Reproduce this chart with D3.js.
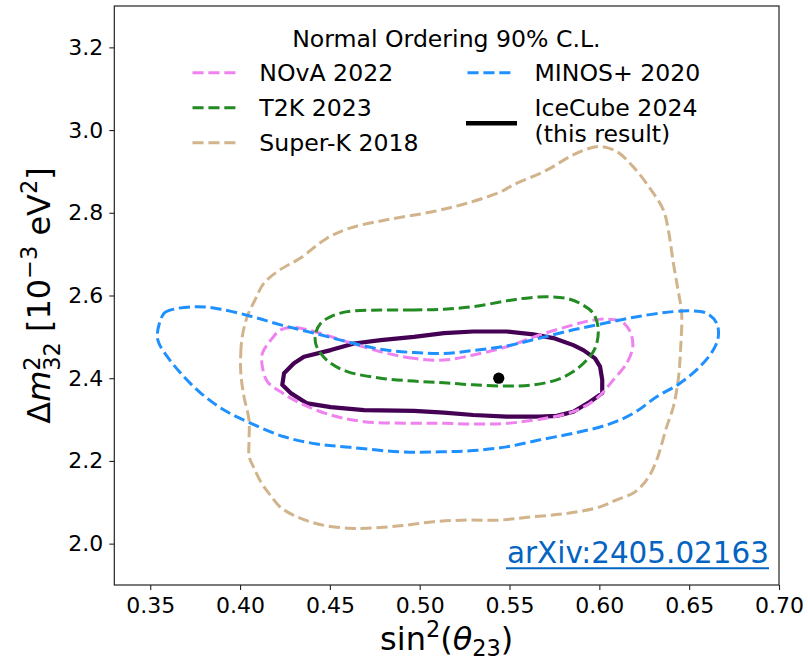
<!DOCTYPE html>
<html>
<head>
<meta charset="utf-8">
<script src="https://cdn.jsdelivr.net/npm/d3@7"></script>
<style>
  body { margin: 0; background: #fff; }
  svg { display: block; }
  text { font-family: "DejaVu Sans", sans-serif; fill: #000; }
</style>
</head>
<body>
<svg id="chart" width="808" height="661"></svg>
<script>
// 90% C.L. contours in (sin^2 theta23, Delta m^2_32 [1e-3 eV^2])
const superK2018 = [
  [0.4004,2.413],[0.4004,2.461],[0.4012,2.500],[0.4039,2.548],[0.4083,2.589],[0.4133,2.630],
  [0.4222,2.662],[0.4334,2.690],[0.4482,2.738],[0.4612,2.763],[0.4816,2.783],[0.5076,2.803],
  [0.5262,2.823],[0.5447,2.850],[0.5519,2.867],[0.5707,2.903],[0.5855,2.940],[0.5994,2.960],
  [0.6097,2.948],[0.6189,2.911],[0.6282,2.859],[0.6356,2.807],[0.6384,2.758],[0.6412,2.678],
  [0.6438,2.613],[0.6458,2.558],[0.6453,2.476],[0.6439,2.396],[0.6412,2.331],[0.6375,2.283],
  [0.6319,2.202],[0.6271,2.159],[0.6198,2.125],[0.6097,2.106],[0.6004,2.089],[0.5818,2.073],
  [0.5631,2.065],[0.5447,2.057],[0.5262,2.057],[0.5076,2.053],[0.4890,2.043],[0.4705,2.037],
  [0.4612,2.037],[0.4482,2.043],[0.4389,2.053],[0.4296,2.069],[0.4222,2.089],[0.4167,2.118],
  [0.4120,2.146],[0.4074,2.186],[0.4051,2.210],[0.4050,2.251],[0.4050,2.299],[0.4022,2.355]
];
const minos2020 = [
  [0.3539,2.505],[0.3577,2.557],[0.3632,2.567],[0.3762,2.573],[0.3892,2.567],[0.4059,2.550],
  [0.4226,2.529],[0.4412,2.509],[0.4597,2.488],[0.4783,2.470],[0.4968,2.462],[0.5135,2.460],
  [0.5298,2.467],[0.5484,2.478],[0.5670,2.497],[0.5855,2.517],[0.6041,2.534],[0.6226,2.550],
  [0.6412,2.561],[0.6505,2.563],[0.6597,2.557],[0.6653,2.533],[0.6662,2.500],[0.6634,2.468],
  [0.6560,2.428],[0.6449,2.388],[0.6319,2.355],[0.6189,2.315],[0.6041,2.287],[0.5855,2.267],
  [0.5670,2.251],[0.5484,2.234],[0.5298,2.225],[0.5113,2.222],[0.4890,2.222],[0.4612,2.233],
  [0.4427,2.241],[0.4241,2.259],[0.4040,2.295],[0.3911,2.323],[0.3781,2.364],[0.3670,2.412],
  [0.3595,2.452],[0.3549,2.484]
];
const nova2022 = [
  [0.5135,2.444],[0.4968,2.448],[0.4783,2.464],[0.4597,2.488],[0.4412,2.513],[0.4300,2.523],
  [0.4226,2.517],[0.4171,2.492],[0.4124,2.460],[0.4124,2.428],[0.4152,2.392],[0.4226,2.367],
  [0.4338,2.339],[0.4505,2.311],[0.4690,2.295],[0.4968,2.291],[0.5135,2.291],[0.5298,2.289],
  [0.5484,2.291],[0.5670,2.301],[0.5855,2.319],[0.5985,2.351],[0.6078,2.396],[0.6152,2.436],
  [0.6186,2.476],[0.6171,2.513],[0.6124,2.537],[0.6041,2.543],[0.5948,2.539],[0.5855,2.529],
  [0.5670,2.505],[0.5484,2.476],[0.5298,2.456]
];
const t2k2023 = [
  [0.5135,2.567],[0.4968,2.565],[0.4783,2.565],[0.4597,2.561],[0.4505,2.549],[0.4449,2.533],
  [0.4421,2.509],[0.4421,2.484],[0.4449,2.460],[0.4505,2.436],[0.4597,2.416],[0.4783,2.400],
  [0.4968,2.393],[0.5135,2.389],[0.5298,2.384],[0.5484,2.381],[0.5632,2.384],[0.5763,2.396],
  [0.5855,2.416],[0.5930,2.444],[0.5976,2.472],[0.5994,2.517],[0.5966,2.557],[0.5892,2.581],
  [0.5818,2.593],[0.5707,2.597],[0.5577,2.593],[0.5484,2.587],[0.5298,2.573]
];
const icecube2024 = [
  [0.5135,2.509],[0.4968,2.500],[0.4783,2.492],[0.4634,2.484],[0.4505,2.468],[0.4356,2.452],
  [0.4300,2.436],[0.4245,2.412],[0.4235,2.384],[0.4282,2.364],[0.4374,2.339],[0.4505,2.330],
  [0.4690,2.323],[0.4968,2.321],[0.5135,2.317],[0.5298,2.311],[0.5484,2.307],[0.5670,2.307],
  [0.5763,2.309],[0.5855,2.319],[0.5948,2.343],[0.6016,2.364],[0.6016,2.396],[0.6004,2.428],
  [0.5976,2.448],[0.5911,2.468],[0.5855,2.480],[0.5744,2.497],[0.5632,2.506],[0.5484,2.513],
  [0.5298,2.513]
];
const bestFit = [0.544, 2.40];

const xTicks = [0.35, 0.40, 0.45, 0.50, 0.55, 0.60, 0.65, 0.70];
const yTicks = [2.0, 2.2, 2.4, 2.6, 2.8, 3.0, 3.2];
const legendTitle = "Normal Ordering 90% C.L.";
const legendCol1 = ["NOvA 2022", "T2K 2023", "Super-K 2018"];
const legendCol2 = ["MINOS+ 2020"];
const icecubeLabel = ["IceCube 2024", "(this result)"];
const arxivLabel = "arXiv:2405.02163";

const svg = d3.select("#chart");
svg.append("rect").attr("width", 808).attr("height", 661).attr("fill", "#fff");

const L = 114.3, R = 779, T = 6, B = 585;
const x = d3.scaleLinear().domain([0.33, 0.70]).range([L, R]);
const y = d3.scaleLinear().domain([1.9, 3.3]).range([B, T]);

// axes
const xAxis = svg.append("g").attr("transform", `translate(0,${B})`)
  .call(d3.axisBottom(x).tickValues(xTicks).tickSize(5).tickPadding(7).tickFormat(d3.format(".2f")));
const yAxis = svg.append("g").attr("transform", `translate(${L},0)`)
  .call(d3.axisLeft(y).tickValues(yTicks).tickSize(5).tickPadding(6).tickFormat(d3.format(".1f")));
[xAxis, yAxis].forEach(a => {
  a.select(".domain").remove();
  a.selectAll(".tick line").attr("stroke", "#222").attr("stroke-width", 1.1);
  a.selectAll(".tick text").attr("font-size", 22).attr("font-family", "DejaVu Sans").attr("fill", "#000");
});

// contours
const plot = svg.append("g");
svg.append("clipPath").attr("id", "clip").append("rect")
  .attr("x", L).attr("y", T).attr("width", R - L).attr("height", B - T);
plot.attr("clip-path", "url(#clip)");

const smooth = d3.line().x(d => x(d[0])).y(d => y(d[1])).curve(d3.curveCatmullRomClosed.alpha(0.5));
const angular = d3.line().x(d => x(d[0])).y(d => y(d[1])).curve(d3.curveLinearClosed);
const dash = "11.1 4.8";

plot.append("path").attr("d", angular(icecube2024)).attr("fill", "none")
  .attr("stroke", "#440154").attr("stroke-width", 4.2).attr("stroke-linejoin", "round");
const dashed = [
  [nova2022, "#EE82EE"],
  [t2k2023, "#228B22"],
  [superK2018, "#D2B48C"],
  [minos2020, "#1E90FF"]
];
dashed.forEach(([pts, col]) => {
  plot.append("path").attr("d", smooth(pts)).attr("fill", "none")
    .attr("stroke", col).attr("stroke-width", 3).attr("stroke-dasharray", dash);
});
plot.append("circle").attr("cx", x(bestFit[0])).attr("cy", y(bestFit[1])).attr("r", 5.6).attr("fill", "#000");

// frame
svg.append("rect").attr("x", L).attr("y", T).attr("width", R - L).attr("height", B - T)
  .attr("fill", "none").attr("stroke", "#222").attr("stroke-width", 1.2);

// legend
const lg = svg.append("g").attr("font-size", 23.6);
lg.append("text").attr("x", 446.4).attr("y", 46.5).attr("text-anchor", "middle").text(legendTitle);
const col1Colors = ["#EE82EE", "#228B22", "#D2B48C"];
const rowY = [72.7, 107.7, 142.7];
legendCol1.forEach((t, i) => {
  lg.append("line").attr("x1", 192.5).attr("x2", 236).attr("y1", rowY[i]).attr("y2", rowY[i])
    .attr("stroke", col1Colors[i]).attr("stroke-width", 3).attr("stroke-dasharray", dash);
  lg.append("text").attr("x", 259.3).attr("y", rowY[i] + 8.6).text(t);
});
lg.append("line").attr("x1", 467.5).attr("x2", 511).attr("y1", rowY[0]).attr("y2", rowY[0])
  .attr("stroke", "#1E90FF").attr("stroke-width", 3).attr("stroke-dasharray", dash);
lg.append("text").attr("x", 534.5).attr("y", rowY[0] + 8.6).text(legendCol2[0]);
lg.append("line").attr("x1", 466).attr("x2", 517).attr("y1", 123.3).attr("y2", 123.3)
  .attr("stroke", "#000").attr("stroke-width", 4.5);
icecubeLabel.forEach((t, i) => {
  lg.append("text").attr("x", 534.5).attr("y", 116.2 + i * 25.5).text(t);
});

// math-style labels laid out piece by piece
function mathLabel(g, pieces, base) {
  let cx = 0, lastStart = 0;
  pieces.forEach(p => {
    const start = p.stack ? lastStart : cx;
    const el = g.append("text").attr("x", start).attr("y", (p.shift || 0) * base)
      .attr("font-size", base * (p.scale || 1))
      .attr("font-style", p.italic ? "italic" : null)
      .style("white-space", "pre").text(p.t);
    const w = el.node().getComputedTextLength();
    if (p.stack) cx = Math.max(cx, start + w);
    else { lastStart = start; cx = start + w; }
  });
  g.selectAll("text").attr("transform", `translate(${-cx / 2},0)`);
}

const xl = svg.append("g").attr("transform", `translate(${(L + R) / 2},650)`);
mathLabel(xl, [
  { t: "sin" }, { t: "2", scale: 0.7, shift: -0.40 }, { t: "(" },
  { t: "θ", italic: true }, { t: "23", scale: 0.7, shift: 0.2 }, { t: ")" }
], 32);

const yl = svg.append("g").attr("transform", `translate(50,${(T + B) / 2}) rotate(-90)`);
mathLabel(yl, [
  { t: "Δ" }, { t: "m", italic: true },
  { t: "2", scale: 0.7, shift: -0.30 }, { t: "32", scale: 0.7, shift: 0.30, stack: true },
  { t: " [10" }, { t: "−3", scale: 0.7, shift: -0.42 }, { t: " eV" },
  { t: "2", scale: 0.7, shift: -0.42 }, { t: "]" }
], 32);

// reference link
svg.append("text").attr("x", 769).attr("y", 563.3).attr("text-anchor", "end")
  .attr("font-family", "Lato, 'Open Sans', sans-serif").attr("font-size", 30)
  .attr("textLength", 262).attr("lengthAdjust", "spacingAndGlyphs")
  .style("fill", "#0563C1").text(arxivLabel);
svg.append("line").attr("x1", 506).attr("x2", 769).attr("y1", 568.3).attr("y2", 568.3)
  .attr("stroke", "#0563C1").attr("stroke-width", 2);
</script>
</body>
</html>
